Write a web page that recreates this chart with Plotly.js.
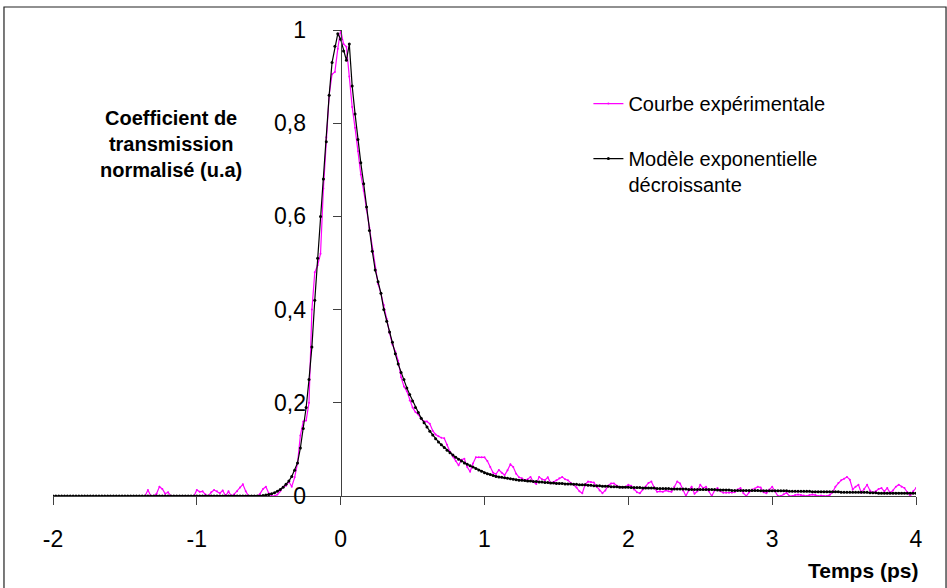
<!DOCTYPE html>
<html>
<head>
<meta charset="utf-8">
<script src="https://cdn.plot.ly/plotly-3.0.1.min.js"></script>
<style>
html,body{margin:0;padding:0;background:#fff;}
#chart{width:947px;height:588px;}
</style>
</head>
<body>
<div id="chart"></div>
<script>
// Sampling grid (ps)
const DT = 0.02;
const MODEL_T0 = -2.0;
const EXP_T0 = -1.36;

// Modèle exponentielle décroissante, one value every 0.02 ps from -2.00 to 4.00
const modelY = [
  0,0,0,0,0,0,0,0,0,0,
  0,0,0,0,0,0,0,0,0,0,
  0,0,0,0,0,0,0,0,0,0,
  0,0,0,0,0,0,0,0,0,0,
  0,0,0,0,0,0,0,0,0,0,
  0,0,0,0,0,0,0,0,0,0,
  0,0,0,0,0,0,0,0,0,0,
  0,0,0,0.001,0.002,0.003,0.005,0.007,0.010,0.014,
  0.019,0.025,0.032,0.042,0.055,0.071,0.103,0.145,0.19,0.25,
  0.32,0.42,0.51,0.60,0.68,0.76,0.86,0.93,0.965,0.992,
  0.98,0.955,0.935,0.97,0.88,0.82,0.765,0.715,0.67,0.62,
  0.57,0.525,0.485,0.46,0.435,0.40,0.375,0.352,0.33,0.305,
  0.283,0.265,0.25,0.232,0.218,0.204,0.19,0.179,0.167,0.157,
  0.148,0.139,0.131,0.123,0.116,0.11,0.104,0.098,0.093,0.088,
  0.083,0.079,0.075,0.071,0.068,0.065,0.062,0.059,0.056,0.053,
  0.05,0.048,0.046,0.044,0.042,0.041,0.040,0.039,0.038,0.037,
  0.036,0.035,0.034,0.034,0.033,0.032,0.032,0.031,0.031,0.030,
  0.030,0.029,0.029,0.028,0.028,0.027,0.027,0.027,0.026,0.026,
  0.026,0.025,0.025,0.024,0.024,0.024,0.023,0.023,0.022,0.022,
  0.022,0.021,0.021,0.021,0.020,0.020,0.020,0.019,0.019,0.019,
  0.019,0.018,0.018,0.018,0.018,0.017,0.017,0.017,0.017,0.017,
  0.016,0.016,0.016,0.016,0.016,0.015,0.015,0.015,0.015,0.015,
  0.015,0.014,0.014,0.014,0.014,0.014,0.014,0.014,0.014,0.014,
  0.014,0.013,0.013,0.013,0.013,0.013,0.012,0.012,0.012,0.012,
  0.012,0.012,0.012,0.012,0.012,0.012,0.011,0.011,0.011,0.011,
  0.011,0.011,0.011,0.011,0.011,0.011,0.010,0.010,0.010,0.010,
  0.010,0.010,0.010,0.010,0.009,0.009,0.009,0.009,0.009,0.009,
  0.009,0.009,0.009,0.009,0.008,0.008,0.008,0.008,0.008,0.008,
  0.008,0.008,0.008,0.008,0.007,0.007,0.007,0.006,0.006,0.006,
  0.006,0.006,0.006,0.006,0.006,0.006,0.006,0.006,0.006,0.006,
  0.006
];

// Courbe expérimentale, one value every 0.02 ps from -1.36 to 4.00
const expY = [
  0,0.013,0,0,0.005,0.02,0.015,0.005,0.008,0,
  0,0,0,0,0,0,0,0,0.013,0.009,
  0.01,0.003,0,0.008,0.013,0.01,0.006,0.012,0,0.01,
  0,0.004,0.01,0.018,0.025,0.01,0,0,0,0,
  0.005,0.015,0.02,0.006,0,0,0.003,0.01,0.02,0.022,
  0.031,0.02,0.04,0.07,0.13,0.16,0.162,0.2,0.40,0.48,
  0.495,0.52,0.66,0.77,0.86,0.905,0.91,0.96,1.0,0.97,
  0.964,0.90,0.835,0.79,0.74,0.69,0.655,0.615,0.575,0.53,
  0.49,0.455,0.435,0.41,0.38,0.35,0.325,0.31,0.29,0.255,
  0.235,0.225,0.205,0.19,0.18,0.175,0.165,0.16,0.16,0.155,
  0.14,0.132,0.128,0.125,0.124,0.11,0.095,0.085,0.075,0.066,
  0.078,0.08,0.062,0.052,0.07,0.083,0.083,0.083,0.083,0.075,
  0.062,0.05,0.047,0.056,0.05,0.045,0.055,0.068,0.062,0.048,
  0.04,0.038,0.034,0.036,0.041,0.03,0.026,0.041,0.036,0.034,
  0.04,0.028,0.03,0.034,0.038,0.041,0.036,0.034,0.028,0.024,
  0.018,0.01,0.006,0.025,0.031,0.03,0.029,0.02,0.012,0.006,
  0.012,0.022,0.027,0.027,0.022,0.02,0.018,0.02,0.024,0.022,
  0.014,0.008,0.006,0.014,0.02,0.028,0.031,0.018,0.009,0.01,
  0.009,0.012,0.01,0.009,0.02,0.031,0.027,0.012,0,0.012,
  0.02,0.005,0.01,0.024,0.017,0.02,0.01,0,0.012,0.017,
  0.01,0.007,0.007,0.007,0.007,0.008,0.014,0.017,0.006,0,
  0.008,0.014,0.016,0.02,0.018,0.008,0.006,0.014,0.02,0.01,
  0,0,0.004,0.007,0,0,0.002,0.003,0.002,0.001,
  0,0.002,0.003,0.002,0,0.001,0,0,0.002,0.008,
  0.02,0.028,0.034,0.037,0.041,0.035,0.014,0.02,0.024,0.007,
  0.015,0.024,0.012,0.007,0.01,0.015,0.017,0.01,0.017,0.007,
  0.012,0.02,0.024,0.02,0.017,0.008,0,0.01,0.017
];

const xTickVals = [-2,-1,0,1,2,3,4];
const xTickText = ["-2","-1","0","1","2","3","4"];
const yTickVals = [0,0.2,0.4,0.6,0.8,1];
const yTickText = ["0","0,2","0,4","0,6","0,8","1"];

const seriesNames = ["Courbe expérimentale", "Modèle exponentielle<br>décroissante"];

function timeGrid(t0, n){
  const a = [];
  for(let i=0;i<n;i++) a.push(+(t0 + i*DT).toFixed(2));
  return a;
}

const FONT = "Liberation Sans, Arial, sans-serif";

const traces = [
  {
    x: timeGrid(EXP_T0, expY.length), y: expY,
    type: "scatter", mode: "lines+markers",
    name: seriesNames[0], legendgroup: "a",
    line: {color: "#FF00FF", width: 1.2},
    marker: {color: "#FF00FF", size: 2}
  },
  {
    x: timeGrid(MODEL_T0, modelY.length), y: modelY,
    type: "scatter", mode: "lines+markers",
    name: seriesNames[1], legendgroup: "b",
    line: {color: "#000000", width: 1.2},
    marker: {color: "#000000", size: 3}
  }
];

const axisCommon = {
  showgrid: false, zeroline: false, showline: true,
  linecolor: "#404040", linewidth: 1,
  ticks: "outside", ticklen: 8, tickwidth: 1, tickcolor: "#404040",
  tickfont: {family: FONT, size: 23, color: "#000"},
  fixedrange: true
};

const layout = {
  width: 947, height: 588,
  margin: {l: 53, r: 31, t: 30, b: 92},
  paper_bgcolor: "#fff", plot_bgcolor: "#fff",
  font: {family: FONT, color: "#000"},
  xaxis: Object.assign({}, axisCommon, {
    range: [-2, 4], tickmode: "array", tickvals: xTickVals, ticktext: xTickText,
    ticklabelstandoff: 14
  }),
  yaxis: Object.assign({}, axisCommon, {
    range: [0, 1], tickmode: "array", tickvals: yTickVals, ticktext: yTickText,
    anchor: "free", position: 1/3, ticklabelstandoff: 22
  }),
  showlegend: true,
  legend: {
    x: 0.6204, y: 0.884, xanchor: "left", yanchor: "top",
    bgcolor: "rgba(0,0,0,0)", borderwidth: 0,
    font: {family: FONT, size: 20, color: "#000"},
    traceorder: "grouped", tracegroupgap: 26, valign: "top", itemwidth: 30
  },
  annotations: [
    {
      text: "<b>Coefficient de<br>transmission<br>normalisé (u.a)</b>",
      xref: "paper", yref: "paper", x: 0.1367, y: 0.7554,
      xanchor: "center", yanchor: "middle", showarrow: false, align: "center",
      font: {family: FONT, size: 20, color: "#000"}
    },
    {
      text: "<b>Temps (ps)</b>",
      xref: "paper", yref: "paper", x: 1.0046, y: -0.159,
      xanchor: "right", yanchor: "middle", showarrow: false,
      font: {family: FONT, size: 21, color: "#000"}
    }
  ],
  shapes: [
    {
      type: "rect", xref: "paper", yref: "paper",
      x0: -0.0568, x1: 1.0348, y0: -0.25, y1: 1.0494,
      line: {color: "#222", width: 1.2}, fillcolor: "rgba(0,0,0,0)", layer: "below"
    }
  ]
};

Plotly.newPlot("chart", traces, layout, {displayModeBar: false, staticPlot: true});
</script>
</body>
</html>
